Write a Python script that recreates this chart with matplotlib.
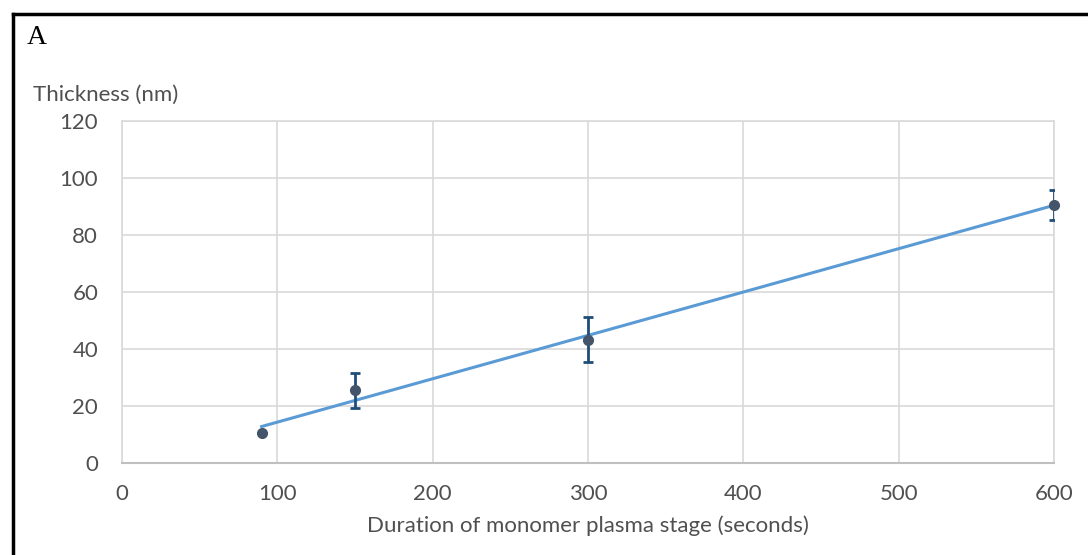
import numpy as np
import matplotlib
matplotlib.use('Agg')
from matplotlib import pyplot as plt
from matplotlib.lines import Line2D

# Film thickness vs. duration of the monomer plasma stage
duration = [90, 150, 300, 600]          # seconds
thickness = [10.7, 25.6, 43.3, 90.6]    # nm
thickness_err = [0, 6.1, 7.9, 5.2]      # nm

x_ticks = [0, 100, 200, 300, 400, 500, 600]
y_ticks = [0, 20, 40, 60, 80, 100, 120]

text_color = '#505050'
plt.rcParams['font.family'] = ['Lato', 'DejaVu Sans']

fig = plt.figure(figsize=(10.88, 5.55), dpi=100)
ax = fig.add_axes([0.1119, 0.1649, 0.8569, 0.6176])

# Linear trend line through the measurements
slope, intercept = np.polyfit(duration, thickness, 1)
fit_x = np.array([min(duration), max(duration)])
ax.plot(fit_x, slope * fit_x + intercept, color='#5B9BD5', linewidth=2.2, zorder=3)

ax.errorbar(duration, thickness, yerr=thickness_err, fmt='none', ecolor='#1F4E79',
            elinewidth=2, capsize=3.5, capthick=2, zorder=4, clip_on=True)
ax.plot(duration, thickness, 'o', color='#44546A', markersize=7, zorder=5, clip_on=False)

ax.set_xlim(0, 600)
ax.set_ylim(0, 120)
ax.set_xticks(x_ticks)
ax.set_yticks(y_ticks)
ax.grid(True, color='#D9D9D9', linewidth=1.2)
ax.set_axisbelow(True)
ax.tick_params(length=0, labelsize=16, labelcolor=text_color)
ax.tick_params(axis='x', pad=15)
ax.tick_params(axis='y', pad=17)
for side in ['top', 'left', 'right']:
    ax.spines[side].set_color('#D9D9D9')
    ax.spines[side].set_linewidth(1.2)
ax.spines['bottom'].set_color('#BFBFBF')
ax.spines['bottom'].set_linewidth(1.5)

ax.set_xlabel('Duration of monomer plasma stage (seconds)', fontsize=16,
              color=text_color, labelpad=8)
fig.text(33 / 1088, 1 - 95 / 555, 'Thickness (nm)', fontsize=16,
         color=text_color, ha='left', va='center')

# Panel letter and frame
fig.text(27 / 1088, 1 - 38 / 555, 'A', fontsize=20, family='Liberation Serif',
         ha='left', va='center', color='black')
fig.add_artist(Line2D([13 / 1088, 1.0], [1 - 14 / 555, 1 - 14 / 555],
                      transform=fig.transFigure, color='black', linewidth=2.5))
fig.add_artist(Line2D([13 / 1088, 13 / 1088], [0.0, 1 - 14 / 555],
                      transform=fig.transFigure, color='black', linewidth=2.5))

fig.savefig('out.png', dpi=100)
